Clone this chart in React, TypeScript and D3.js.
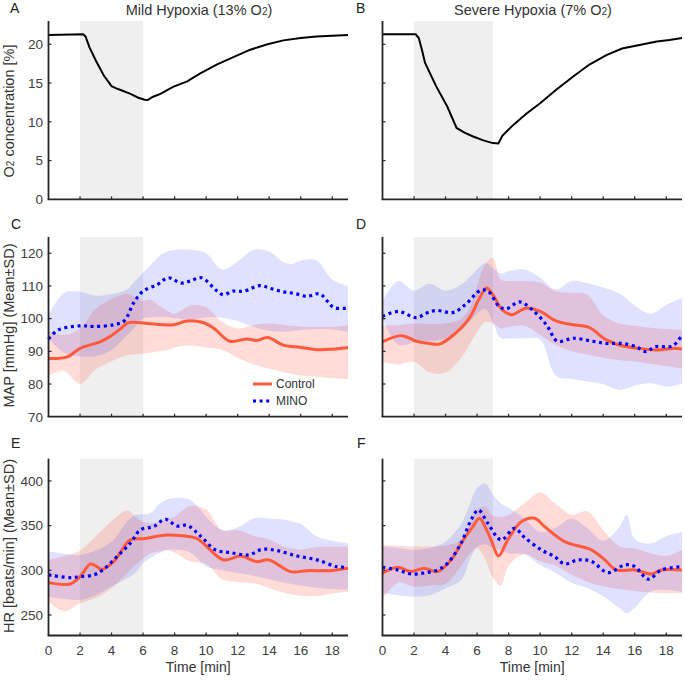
import React from 'react';
import * as d3 from 'd3';

// ---------- tick labels ----------
const timeTicks = [0, 2, 4, 6, 8, 10, 12, 14, 16, 18];
const o2Ticks = [0, 5, 10, 15, 20];
const mapTicks = [70, 80, 90, 100, 110, 120];
const hrTicks = [250, 300, 350, 400];

// ---------- O2 concentration ----------
const aT = [0, 2.2, 2.35, 2.6, 3.0, 3.5, 4.0, 4.3, 4.7, 5.2, 5.7, 6.1, 6.3, 6.6, 7.1, 7.9, 8.8, 9.6, 10.7, 11.8, 12.8, 13.9, 14.9, 16, 17, 18, 19];
const aV = [21.2, 21.3, 21.0, 19.6, 17.9, 16.0, 14.6, 14.3, 14.0, 13.6, 13.1, 12.85, 12.8, 13.2, 13.6, 14.5, 15.2, 16.2, 17.4, 18.4, 19.3, 20.0, 20.5, 20.8, 21.0, 21.1, 21.2];
const bT = [0, 2.1, 2.3, 2.5, 2.7, 3.4, 4.1, 4.7, 5.2, 5.75, 6.4, 7.0, 7.35, 7.6, 8.3, 9.1, 10, 11, 12.1, 13.1, 14.2, 15.2, 16.3, 17.4, 18.2, 19];
const bV = [21.3, 21.3, 20.8, 19.3, 17.6, 14.6, 12.0, 9.2, 8.6, 8.1, 7.6, 7.25, 7.2, 8.2, 9.6, 11.0, 12.4, 14.1, 15.85, 17.35, 18.6, 19.45, 19.9, 20.35, 20.55, 20.8];

// ---------- MAP means ----------
const cCtrlT = [0, 1.2, 2, 3.3, 3.9, 4.6, 5.0, 5.4, 6.5, 7.9, 8.8, 9.8, 10.5, 11.5, 12.6, 13.2, 13.9, 14.9, 16, 17, 17.9, 19];
const cCtrlV = [87.8, 88.3, 90.9, 93, 94.5, 97, 98.6, 98.9, 98.4, 98.1, 99.3, 98.8, 97, 93.1, 93.8, 93.3, 94.2, 91.9, 91.2, 90.5, 90.6, 91.2];
const cMinoT = [0, 0.6, 2, 2.9, 4.1, 4.8, 5.4, 6.0, 6.9, 7.6, 8.4, 9.0, 9.7, 10.7, 11.1, 11.7, 12.4, 13.4, 14.1, 14.9, 15.6, 16.4, 17.2, 17.7, 18.1, 19];
const cMinoV = [93.8, 96.5, 97.8, 97.6, 98.1, 99.3, 104.8, 108.4, 110.4, 112.5, 110.9, 111.5, 112.5, 108.4, 107.3, 108.4, 108.4, 110.1, 109.2, 108.2, 107.7, 106.8, 107.6, 105.3, 103.4, 103.2];
const dCtrlT = [0, 1.2, 2.15, 3.0, 3.6, 4.5, 5.5, 6.16, 6.6, 7.0, 7.6, 8.2, 9.1, 10, 11, 12.1, 13.1, 14.2, 15.2, 16.3, 17.3, 18.4, 19];
const dCtrlV = [92.9, 94.8, 93.1, 92.4, 92.2, 95, 100.1, 106.3, 109.4, 107.3, 102.7, 101.2, 103.2, 102.2, 99.3, 98.1, 97.3, 93.5, 91.7, 90.9, 90.4, 90.9, 90.7];
const dMinoT = [0, 1, 2.15, 2.8, 3.4, 4.5, 5.3, 6.2, 6.7, 7.4, 7.85, 8.7, 9.5, 10.4, 11.1, 12.1, 13.3, 14.2, 15.2, 16.1, 16.7, 17.3, 18.4, 19];
const dMinoV = [100.7, 102.2, 100.3, 101.7, 102.5, 101.9, 104.5, 108.6, 108.4, 103.7, 103, 105.1, 102.7, 98.1, 93.1, 94, 93.1, 92.4, 92.4, 91.4, 89.9, 91.4, 91.6, 95];

// ---------- HR means ----------
const eCtrlT = [0, 1.38, 2, 2.65, 3.0, 3.39, 4.13, 5.19, 6.03, 7.5, 9.0, 9.4, 9.84, 11.1, 12.17, 13.2, 13.97, 15.35, 16.4, 17.9, 19];
const eCtrlV = [286.2, 284.7, 292.9, 307, 305, 301, 309.7, 334, 335.4, 339.5, 337.5, 335.8, 330, 311.6, 316, 309.7, 311.6, 298.5, 299.6, 299.6, 302.2];
const eMinoT = [0, 1.38, 2, 2.86, 3.49, 4.34, 5.19, 5.82, 6.67, 7.41, 8.15, 8.79, 9.42, 9.84, 10.59, 11.54, 12.7, 13.55, 14.5, 15.77, 17.04, 18.3, 19];
const eMinoV = [294.8, 291.8, 292.9, 294.8, 301, 315.3, 330.2, 345.1, 348.9, 357.1, 349.6, 350.4, 342, 335, 322.8, 319.8, 317.2, 323.5, 322, 316, 311.6, 304, 303.4];
const fCtrlT = [0, 0.95, 1.8, 2.65, 3.5, 4.35, 5.19, 5.7, 6.15, 6.55, 6.89, 7.36, 7.95, 8.8, 9.64, 10.28, 11.55, 13.25, 14.1, 14.84, 16, 17.06, 17.7, 19];
const fCtrlV = [296.7, 303.4, 298.5, 302.2, 298.5, 311.6, 335.8, 348, 358.3, 347, 334, 316, 334, 354.4, 358.3, 348.9, 332, 322.8, 311.6, 300.4, 300.4, 295.9, 300.4, 300.4];
const fMinoT = [0, 0.95, 1.8, 2.65, 3.5, 4.13, 4.98, 5.62, 6.08, 6.68, 7.53, 8.37, 9.0, 10.07, 10.92, 11.55, 12.4, 13.25, 14.3, 15.37, 16, 16.85, 17.7, 19];
const fMinoV = [303.4, 300.4, 295.9, 297, 300.4, 307.9, 330.2, 356.3, 367.5, 352.6, 334, 347, 337, 322.8, 315.3, 307.1, 311.6, 310, 297.4, 306, 304.3, 290, 300.4, 304];

// ---------- SD bands (upper / lower edges) ----------
const bandT = [0, 1, 2, 3, 4, 5, 5.5, 6, 6.5, 7, 7.5, 8, 9, 10, 11, 12, 13, 14, 15, 15.5, 16, 17, 18, 19];
const cMinoHi = [101, 107.9, 108.2, 107, 107.5, 109, 111.5, 114, 116.5, 119, 120.5, 121, 121, 120, 115, 117.5, 121, 120.5, 117, 116.8, 117.8, 117.8, 112, 110];
const cMinoLo = [94, 89.5, 88.5, 88.5, 90.5, 95, 97.5, 100, 100.4, 100.6, 100.4, 100.2, 99.7, 100.4, 100.3, 99.3, 97.5, 96.3, 96, 96.2, 96.5, 96.8, 96.7, 96];
const cCtrlHi = [96, 95, 97, 103, 106, 107.5, 106.5, 105.5, 105.8, 104, 102.5, 101.5, 104, 103.5, 99, 97, 98, 98.5, 98, 97.8, 97.5, 97.5, 97.5, 98];
const cCtrlLo = [82.6, 84, 80, 84.5, 87, 88.8, 89.1, 89.3, 89.6, 90, 90.3, 91.2, 91.8, 91.2, 90.5, 88, 86, 84.7, 83.5, 83, 82.6, 82.2, 81.8, 81.5];
const dMinoHi = [105.3, 111.5, 108.6, 110.7, 108.5, 110.5, 112.5, 115, 117, 115.5, 113.8, 114.5, 115, 112.5, 108.9, 111.5, 110.8, 109.5, 107.8, 106, 104, 101.5, 104.2, 106.3];
const dMinoLo = [100.1, 92, 92.7, 93.2, 94, 96.5, 99, 101.5, 103, 99, 94, 94, 94, 93.6, 82.5, 81.5, 80.8, 80, 78.2, 78.7, 79.5, 80.2, 79.2, 80];
const dCtrlHi = [98, 98, 98.5, 98.3, 98.5, 100, 103, 110, 116.5, 118.5, 112, 111.5, 111.5, 111, 108.4, 107.9, 107.3, 101, 98.5, 98.2, 97.8, 97.2, 96.8, 96.5];
const dCtrlLo = [86.8, 86, 86.8, 83.5, 83.5, 88, 91.9, 96, 99, 98.5, 97, 97.5, 97.8, 95, 91.9, 90, 89, 88, 87.3, 87.1, 86.9, 86.2, 85.5, 84.7];
const eMinoHi = [320.9, 318.5, 317, 322, 332, 355, 362, 362.5, 364, 374, 379, 381, 378.7, 360, 345, 348, 358, 358, 356.5, 354, 352, 338, 333, 330.2];
const eMinoLo = [270.5, 268, 266.8, 272, 282, 291, 297, 307.9, 314, 319, 322.8, 323, 320, 304.5, 300, 297, 294, 290, 286, 284.5, 283, 280.5, 279, 278];
const eCtrlHi = [311.6, 316, 322, 338, 355, 367, 360, 354, 352.6, 354, 357, 360, 372, 368, 345, 345, 338.5, 334.5, 326, 324, 323, 326, 326.5, 326.5];
const eCtrlLo = [265, 254, 263, 269, 280, 297, 306, 313, 319, 321, 322.8, 320, 310, 307, 290, 287, 285.5, 280, 274.5, 273, 271.5, 271, 274, 276];
const fMinoHi = [326.5, 325, 322.8, 325, 332, 352, 372, 392, 397, 385, 375, 370, 358, 343, 348, 358, 347, 333, 348, 362, 335, 330, 338, 343];
const fMinoLo = [274.3, 272, 270.5, 272, 280, 289, 310, 326, 329, 325, 322.8, 319, 318, 306, 297, 286, 280, 271, 258, 252, 258, 276, 278, 276];
const fCtrlHi = [328.4, 327.5, 326.5, 326.5, 328, 334, 350, 368, 371, 361, 360, 362, 375, 387, 374, 362, 366, 345, 327, 325, 324.6, 319, 316, 322.8];
const fCtrlLo = [268, 286, 281.7, 283, 285, 305, 318, 325, 313, 292, 283, 305, 318, 310, 305, 295, 287, 282, 279, 278, 277, 275, 274.3, 274.3];

// ---------- styling ----------
const FONT = '"Liberation Sans", Arial, Helvetica, sans-serif';
const RED = '#ff5a3c';
const BLUE = '#0000ff';
const AXIS = '#262626';
const TXT = '#404040';

type Pt = [number, number];
const smooth = d3.line<Pt>().curve(d3.curveCatmullRom.alpha(0.5));
const linear = d3.line<Pt>();

interface PanelProps {
  x0: number;
  yDomain: [number, number];
  yRange: [number, number];
  yTicks: number[];
  showYLabels: boolean;
  showXLabels: boolean;
  hypoxiaEnd: number;
  children: (x: d3.ScaleLinear<number, number>, y: d3.ScaleLinear<number, number>) => React.ReactNode;
}

function Panel({ x0, yDomain, yRange, yTicks, showYLabels, showXLabels, hypoxiaEnd, children }: PanelProps) {
  const x = d3.scaleLinear().domain([0, 19]).range([x0, x0 + 299.5]);
  const y = d3.scaleLinear().domain(yDomain).range(yRange);
  const [yb, yt] = yRange;
  return (
    <g>
      <rect x={x(2)} y={yt} width={x(hypoxiaEnd) - x(2)} height={yb - yt} fill="#efefef" />
      {children(x, y)}
      <line x1={x0} x2={x0} y1={yt} y2={yb} stroke={AXIS} strokeWidth={1.8} />
      <line x1={x0 - 0.9} x2={x(19)} y1={yb} y2={yb} stroke={AXIS} strokeWidth={1.8} />
      {timeTicks.map((t) => (
        <g key={'xt' + t}>
          {t > 0 && <line x1={x(t)} x2={x(t)} y1={yb} y2={yb - 3} stroke={AXIS} strokeWidth={1.2} />}
          {showXLabels && (
            <text x={x(t)} y={654.5} textAnchor="middle" fontSize={13.5} fill={TXT}>{t}</text>
          )}
        </g>
      ))}
      {yTicks.map((v) => (
        <g key={'yt' + v}>
          {y(v) < yb - 1 && <line x1={x0} x2={x0 + 3} y1={y(v)} y2={y(v)} stroke={AXIS} strokeWidth={1.2} />}
          {showYLabels && (
            <text x={x0 - 5.5} y={y(v)} dy="0.36em" textAnchor="end" fontSize={13.5} fill={TXT}>{v}</text>
          )}
        </g>
      ))}
    </g>
  );
}

function bandPath(x: d3.ScaleLinear<number, number>, y: d3.ScaleLinear<number, number>, hi: number[], lo: number[]) {
  const up: Pt[] = bandT.map((t, i) => [x(t), y(hi[i])]);
  const dn: Pt[] = bandT.map((t, i) => [x(t), y(lo[i])]).reverse() as Pt[];
  return (smooth(up) || '') + (smooth(dn) || '').replace(/^M/, 'L') + 'Z';
}

function meanPath(x: d3.ScaleLinear<number, number>, y: d3.ScaleLinear<number, number>, ts: number[], vs: number[]) {
  return smooth(ts.map((t, i) => [x(t), y(vs[i])] as Pt)) || '';
}

function Bands(props: {
  x: d3.ScaleLinear<number, number>; y: d3.ScaleLinear<number, number>;
  cHi: number[]; cLo: number[]; mHi: number[]; mLo: number[];
  cT: number[]; cV: number[]; mT: number[]; mV: number[];
}) {
  const { x, y } = props;
  return (
    <g>
      <path d={bandPath(x, y, props.cHi, props.cLo)} fill="#ff4628" fillOpacity={0.19} stroke="none" />
      <path d={bandPath(x, y, props.mHi, props.mLo)} fill="#3c3cff" fillOpacity={0.16} stroke="none" />
      <path d={meanPath(x, y, props.cT, props.cV)} fill="none" stroke={RED} strokeWidth={3} />
      <path d={meanPath(x, y, props.mT, props.mV)} fill="none" stroke={BLUE} strokeWidth={3.2} strokeDasharray="3 3.6" />
    </g>
  );
}

const LX = 48.5;
const RX = 382.5;
const row1: [number, number] = [199.3, 21];
const row2: [number, number] = [416.7, 236.9];
const row3: [number, number] = [635.5, 458.6];

function x0Center(x0: number) {
  return x0 + 299.5 * (9.5 / 19);
}

export default function App() {
  return (
    <svg width={685} height={680} style={{ position: 'absolute', left: 0, top: 0, background: '#fff' }} fontFamily={FONT}>
      <rect x={0} y={0} width={685} height={680} fill="#fff" />
      {/* panel letters */}
      <text x={10} y={13} fontSize={14} fill="#222">A</text>
      <text x={356} y={13} fontSize={14} fill="#222">B</text>
      <text x={11} y={229} fontSize={14} fill="#222">C</text>
      <text x={356} y={229} fontSize={14} fill="#222">D</text>
      <text x={11} y={448} fontSize={14} fill="#222">E</text>
      <text x={357} y={448} fontSize={14} fill="#222">F</text>

      {/* titles */}
      <text x={199} y={15} textAnchor="middle" fontSize={14.5} fill="#333">
        Mild Hypoxia (13% O<tspan fontSize={10}>2</tspan>)
      </text>
      <text x={533} y={15} textAnchor="middle" fontSize={14.5} fill="#333">
        Severe Hypoxia (7% O<tspan fontSize={10}>2</tspan>)
      </text>

      {/* y labels */}
      <text transform="translate(13.5,111) rotate(-90)" textAnchor="middle" fontSize={14.5} fill="#333">
        O<tspan fontSize={10}>2</tspan> concentration [%]
      </text>
      <text transform="translate(13.5,325.5) rotate(-90)" textAnchor="middle" fontSize={14.5} fill="#333">
        MAP [mmHg] (Mean±SD)
      </text>
      <text transform="translate(13.5,546) rotate(-90)" textAnchor="middle" fontSize={14.5} fill="#333">
        HR [beats/min] (Mean±SD)
      </text>

      {/* x labels */}
      <text x={x0Center(LX)} y={672} textAnchor="middle" fontSize={14} fill="#333">Time [min]</text>
      <text x={x0Center(RX)} y={672} textAnchor="middle" fontSize={14} fill="#333">Time [min]</text>

      {/* Row 1 */}
      <Panel x0={LX} yDomain={[0, 23]} yRange={row1} yTicks={o2Ticks} showYLabels showXLabels={false} hypoxiaEnd={6}>
        {(x, y) => <path d={linear(aT.map((t, i) => [x(t), y(aV[i])] as Pt)) || ''} fill="none" stroke="#000" strokeWidth={2} />}
      </Panel>
      <Panel x0={RX} yDomain={[0, 23]} yRange={row1} yTicks={o2Ticks} showYLabels={false} showXLabels={false} hypoxiaEnd={7}>
        {(x, y) => <path d={linear(bT.map((t, i) => [x(t), y(bV[i])] as Pt)) || ''} fill="none" stroke="#000" strokeWidth={2} />}
      </Panel>

      {/* Row 2 */}
      <Panel x0={LX} yDomain={[70, 125]} yRange={row2} yTicks={mapTicks} showYLabels showXLabels={false} hypoxiaEnd={6}>
        {(x, y) => (
          <Bands x={x} y={y} cHi={cCtrlHi} cLo={cCtrlLo} mHi={cMinoHi} mLo={cMinoLo} cT={cCtrlT} cV={cCtrlV} mT={cMinoT} mV={cMinoV} />
        )}
      </Panel>
      <Panel x0={RX} yDomain={[70, 125]} yRange={row2} yTicks={mapTicks} showYLabels={false} showXLabels={false} hypoxiaEnd={7}>
        {(x, y) => (
          <Bands x={x} y={y} cHi={dCtrlHi} cLo={dCtrlLo} mHi={dMinoHi} mLo={dMinoLo} cT={dCtrlT} cV={dCtrlV} mT={dMinoT} mV={dMinoV} />
        )}
      </Panel>

      {/* legend */}
      <line x1={253} x2={272} y1={384} y2={384} stroke={RED} strokeWidth={3} />
      <text x={276} y={384} dy="0.36em" fontSize={12} fill="#333">Control</text>
      <line x1={253} x2={272} y1={401} y2={401} stroke={BLUE} strokeWidth={3.2} strokeDasharray="3 3.6" />
      <text x={276} y={401} dy="0.36em" fontSize={12} fill="#333">MINO</text>

      {/* Row 3 */}
      <Panel x0={LX} yDomain={[227, 425]} yRange={row3} yTicks={hrTicks} showYLabels showXLabels hypoxiaEnd={6}>
        {(x, y) => (
          <Bands x={x} y={y} cHi={eCtrlHi} cLo={eCtrlLo} mHi={eMinoHi} mLo={eMinoLo} cT={eCtrlT} cV={eCtrlV} mT={eMinoT} mV={eMinoV} />
        )}
      </Panel>
      <Panel x0={RX} yDomain={[227, 425]} yRange={row3} yTicks={hrTicks} showYLabels={false} showXLabels hypoxiaEnd={7}>
        {(x, y) => (
          <Bands x={x} y={y} cHi={fCtrlHi} cLo={fCtrlLo} mHi={fMinoHi} mLo={fMinoLo} cT={fCtrlT} cV={fCtrlV} mT={fMinoT} mV={fMinoV} />
        )}
      </Panel>
    </svg>
  );
}
